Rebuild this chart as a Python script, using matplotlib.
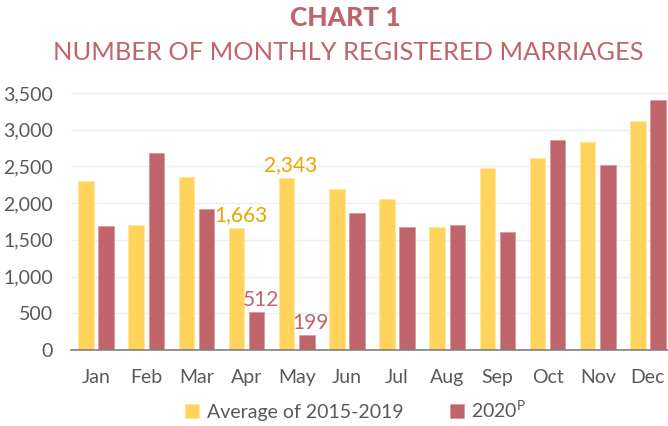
import matplotlib.pyplot as plt
import numpy as np

plt.rcParams['font.family'] = ['Lato', 'DejaVu Sans']

# data
months = ['Jan', 'Feb', 'Mar', 'Apr', 'May', 'Jun', 'Jul', 'Aug', 'Sep', 'Oct', 'Nov', 'Dec']
avg_2015_2019 = [2295, 1705, 2359, 1663, 2343, 2195, 2059, 1677, 2482, 2618, 2827, 3123]
y2020 = [1682, 2682, 1927, 512, 199, 1864, 1677, 1705, 1605, 2864, 2518, 3405]
labelled_avg = ['Apr', 'May']
labelled_2020 = ['Apr', 'May']

yellow = '#FFD35C'
red = '#C0646B'
gold = '#E8A600'
text_col = '#595959'

W, H = 668, 426
fig = plt.figure(figsize=(W / 100, H / 100), dpi=100)
ax = fig.add_axes([71 / W, 1 - 350 / H, 602 / W, 257 / H])

x = np.arange(len(months))
w = 0.31
b1 = ax.bar(x - 0.2, avg_2015_2019, w, color=yellow, edgecolor='#FFE59A', linewidth=0.6,
            label='Average of 2015-2019')
b2 = ax.bar(x + 0.2, y2020, w, color=red, edgecolor='#D89A9F', linewidth=0.6,
            label='2020$^\\mathregular{P}$')

for i, m in enumerate(months):
    if m in labelled_avg:
        ax.annotate(f'{avg_2015_2019[i]:,}', (x[i] - 0.2, avg_2015_2019[i]), xytext=(3, 2),
                    textcoords='offset points', ha='center', va='bottom', color=gold, fontsize=15)
    if m in labelled_2020:
        ax.annotate(f'{y2020[i]:,}', (x[i] + 0.2, y2020[i]), xytext=(3, 2),
                    textcoords='offset points', ha='center', va='bottom', color=red, fontsize=15)

ax.set_xlim(-0.5, 11.5)
ax.set_ylim(0, 3500)
ax.set_yticks(range(0, 3501, 500))
ax.yaxis.set_major_formatter(plt.FuncFormatter(lambda v, p: f'{int(v):,}'))
ax.set_xticks(x)
ax.set_xticklabels(months)
ax.tick_params(axis='both', length=0, labelsize=14, colors=text_col)
ax.tick_params(axis='x', pad=14)
ax.tick_params(axis='y', pad=13)
ax.grid(axis='y', color='#EFEFEF', linewidth=1)
ax.set_axisbelow(True)
for s in ['top', 'right', 'left']:
    ax.spines[s].set_visible(False)
ax.spines['bottom'].set_color('#808080')
ax.spines['bottom'].set_linewidth(1.2)

fig.text(345 / W, 1 - 18 / H, 'CHART 1', ha='center', va='center', fontsize=19,
         fontweight='black', color=red)
fig.text(348 / W, 1 - 52 / H, 'NUMBER OF MONTHLY REGISTERED MARRIAGES', ha='center',
         va='center', fontsize=18.3, color=red)

leg = fig.legend(handles=[b1, b2], loc='center', bbox_to_anchor=(356 / W, 1 - 410 / H),
                 ncol=2, frameon=False, fontsize=14, handlelength=0.7, handleheight=0.7,
                 columnspacing=2.4, handletextpad=0.4)
for t in leg.get_texts():
    t.set_color(text_col)

fig.savefig('out.png', dpi=100)
